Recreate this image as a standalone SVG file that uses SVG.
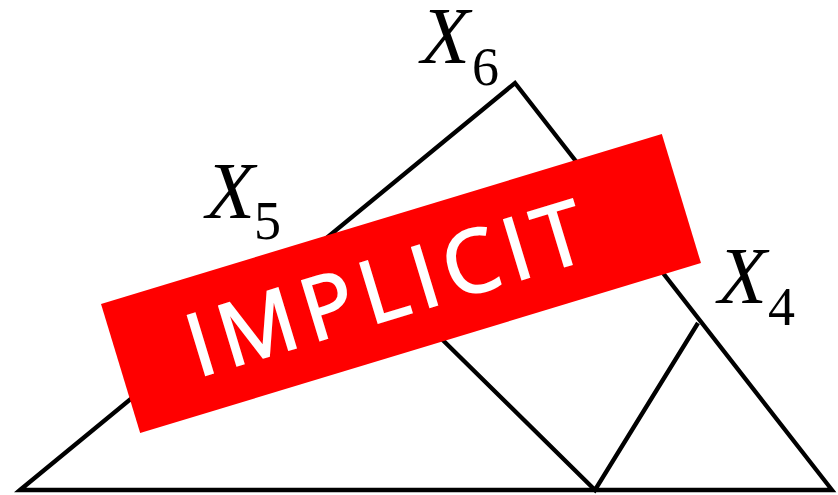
<svg xmlns="http://www.w3.org/2000/svg" width="838" height="495" viewBox="0 0 838 495">
<style>
.edge{fill:none;stroke:#000;stroke-width:4.3;stroke-linejoin:miter}
.lbl{font-family:"Liberation Serif","Times New Roman",serif;fill:#000}
.var{font-style:italic;font-size:80px}
.sub{font-size:54px}
.stamp-text{font-family:"Open Sans","DejaVu Sans",sans-serif;font-size:87px;fill:#fff;stroke:#fff;stroke-width:2;letter-spacing:8.5px}
</style>
<rect width="838" height="495" fill="#fff"/>
<g id="connectors">
  <path class="edge" d="M20,490 L515,83 L832,490 Z"/>
  <path class="edge" d="M333,232 L595,490 L698,323"/>
</g>
<g id="node-x6">
  <text class="lbl var" x="421" y="63">X</text>
  <text class="lbl sub" x="472" y="85">6</text>
</g>
<g id="node-x5">
  <text class="lbl var" x="206" y="218">X</text>
  <text class="lbl sub" x="254" y="239">5</text>
</g>
<g id="node-x4">
  <text class="lbl var" x="718" y="303">X</text>
  <text class="lbl sub" x="768" y="325">4</text>
</g>
<g id="stamp" transform="translate(401,283.5) rotate(-16.86)">
  <rect x="-293" y="-67.5" width="586" height="135" fill="#ff0000"/>
  <text class="stamp-text" x="-12" y="31" text-anchor="middle">IMPLICIT</text>
</g>
</svg>
